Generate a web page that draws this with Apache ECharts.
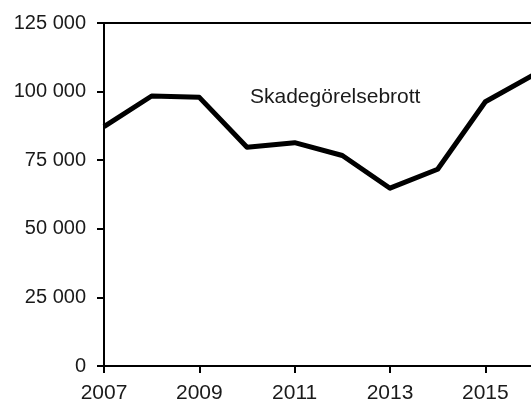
<!DOCTYPE html>
<html>
<head>
<meta charset="utf-8">
<script src="https://cdn.jsdelivr.net/npm/echarts@6/dist/echarts.min.js"></script>
<style>
  html, body { margin: 0; padding: 0; background: #fff; overflow: hidden; width: 531px; height: 401px; }
  #chart { width: 533px; height: 401px; }
</style>
</head>
<body>
<div id="chart"></div>
<script>
// years on the x axis
var years = ['2007', '2008', '2009', '2010', '2011', '2012', '2013', '2014', '2015', '2016'];
// reported cases of criminal damage
var skadegorelse = [87200, 98400, 97900, 79700, 81400, 76700, 64800, 71700, 96300, 106000];
var seriesName = 'Skadegörelsebrott';

function fmt(v) {
  return String(v).replace(/\B(?=(\d{3})+(?!\d))/g, ' ');
}

var myChart = echarts.init(document.getElementById('chart'));
myChart.setOption({
  animation: false,
  backgroundColor: '#fff',
  textStyle: { fontFamily: 'Liberation Sans, Arial, sans-serif' },
  grid: {
    left: 104,
    right: 0,
    top: 23,
    bottom: 35,
    outerBoundsMode: 'none',
    containLabel: false,
    show: true,
    borderColor: '#000',
    borderWidth: 2
  },
  xAxis: {
    type: 'category',
    data: years,
    boundaryGap: false,
    axisLine: { lineStyle: { color: '#000', width: 2 } },
    axisTick: { show: true, interval: 1, length: 7, lineStyle: { color: '#000', width: 2 } },
    axisLabel: { interval: 1, color: '#1a1a1a', fontSize: 21, margin: 17 },
    splitLine: { show: false }
  },
  yAxis: {
    type: 'value',
    min: 0,
    max: 125000,
    interval: 25000,
    axisLine: { show: true, lineStyle: { color: '#000', width: 2 } },
    axisTick: { show: true, length: 7, lineStyle: { color: '#000', width: 2 } },
    axisLabel: { color: '#1a1a1a', fontSize: 20, margin: 18, formatter: fmt },
    splitLine: { show: false }
  },
  graphic: [
    {
      type: 'text',
      left: 250,
      top: 87,
      style: { text: seriesName, fill: '#1a1a1a', fontSize: 21, fontFamily: 'Liberation Sans, Arial, sans-serif' }
    }
  ],
  series: [
    {
      name: seriesName,
      type: 'line',
      data: skadegorelse,
      symbol: 'none',
      lineStyle: { color: '#000', width: 5, join: 'round' }
    }
  ]
});
</script>
</body>
</html>
